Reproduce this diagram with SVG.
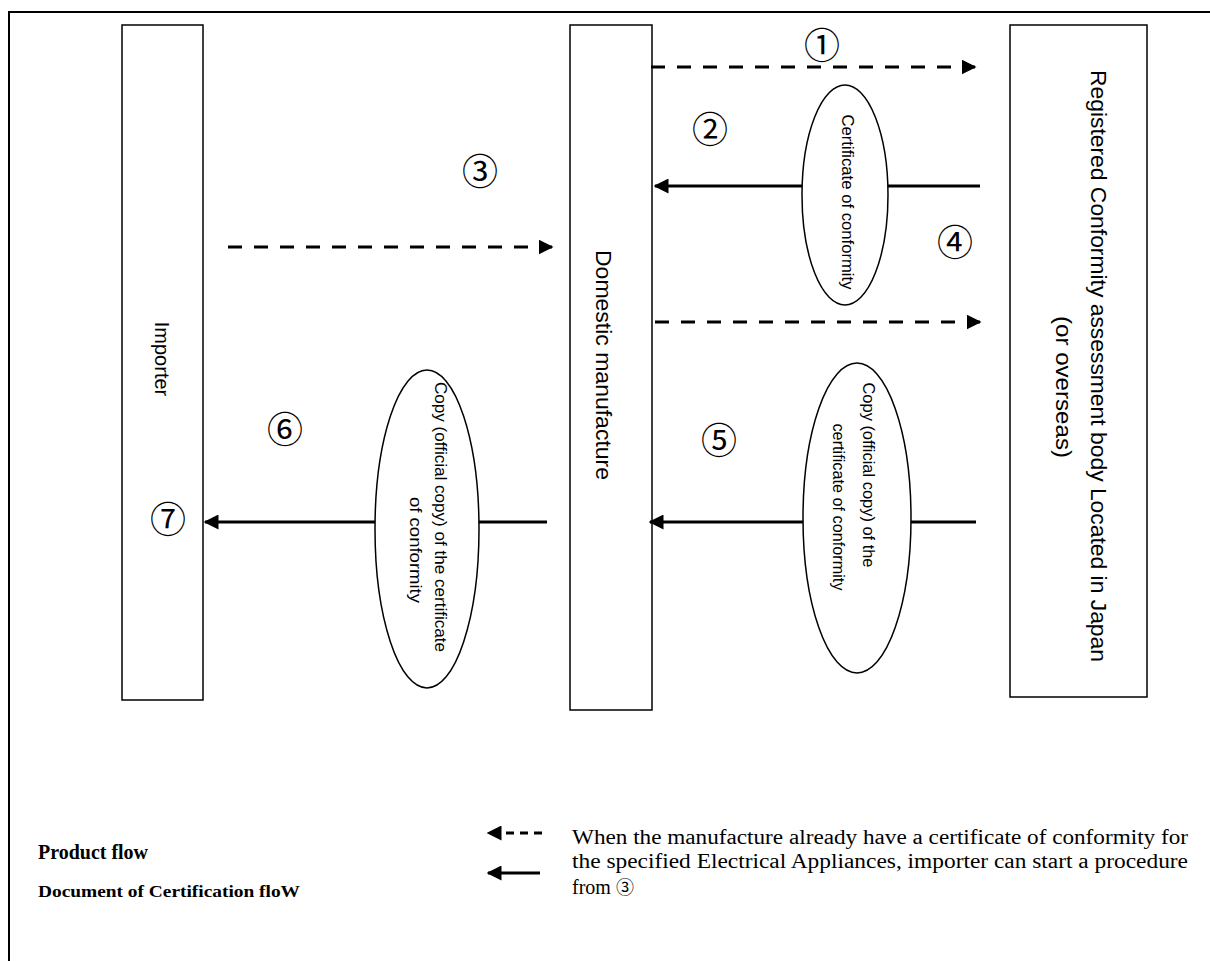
<svg xmlns="http://www.w3.org/2000/svg" width="1210" height="961" viewBox="0 0 1210 961">
<style>
.box{fill:#fff;stroke:#000;stroke-width:1.5}
.ell{fill:#fff;stroke:#000;stroke-width:1.5}
.lbl{font-family:"Liberation Sans",Arial,sans-serif;fill:#000}
.num{font-family:"Noto Sans CJK JP","DejaVu Sans",sans-serif;font-size:36px;fill:#000}
.solid{stroke:#000;stroke-width:3;fill:none}
.dash{stroke:#000;stroke-width:3;fill:none;stroke-dasharray:14 12}
.dashs{stroke:#000;stroke-width:3;fill:none;stroke-dasharray:8 6}
.leg{font-family:"Liberation Serif","Times New Roman",serif;fill:#000}
</style>
<defs>
<marker id="ah" viewBox="0 0 10 10" refX="9" refY="5" markerWidth="5" markerHeight="5" markerUnits="strokeWidth" orient="auto">
<path d="M0,0 L10,5 L0,10 Z" fill="#000"/>
</marker>
</defs>
<rect x="9" y="12" width="1220" height="970" fill="none" stroke="#000" stroke-width="2"/>

<g id="importer">
<rect class="box" x="122" y="25" width="81" height="675"/>
<text class="lbl" font-size="20" text-anchor="middle" transform="translate(155,359) rotate(90)">Importer</text>
</g>
<g id="domestic">
<rect class="box" x="570" y="25" width="82" height="685"/>
<text class="lbl" font-size="22" text-anchor="middle" textLength="230" lengthAdjust="spacingAndGlyphs" transform="translate(596,365) rotate(90)">Domestic manufacture</text>
</g>
<g id="registered">
<rect class="box" x="1010" y="25" width="137" height="672"/>
<text class="lbl" font-size="22" text-anchor="middle" textLength="592" lengthAdjust="spacingAndGlyphs" transform="translate(1091,366) rotate(90)">Registered Conformity assessment body Located in Japan</text>
<text class="lbl" font-size="22" text-anchor="middle" textLength="142" lengthAdjust="spacingAndGlyphs" transform="translate(1056,387) rotate(90)">(or overseas)</text>
</g>

<g id="connectors">
<line class="dash" x1="651" y1="67" x2="975" y2="67" marker-end="url(#ah)"/>
<line class="solid" x1="980" y1="186" x2="655" y2="186" marker-end="url(#ah)"/>
<line class="dash" x1="228" y1="247" x2="552" y2="247" marker-end="url(#ah)"/>
<line class="dash" x1="655" y1="322" x2="980" y2="322" marker-end="url(#ah)"/>
<line class="solid" x1="976" y1="522" x2="650" y2="522" marker-end="url(#ah)"/>
<line class="solid" x1="547" y1="522" x2="205" y2="522" marker-end="url(#ah)"/>
</g>

<g id="doc-cert">
<ellipse class="ell" cx="845" cy="195" rx="43" ry="110"/>
<text class="lbl" font-size="17" text-anchor="middle" textLength="175" lengthAdjust="spacingAndGlyphs" transform="translate(842,202) rotate(90)">Certificate of conformity</text>
</g>
<g id="doc-copy5">
<ellipse class="ell" cx="857" cy="518" rx="54" ry="155"/>
<text class="lbl" font-size="17" text-anchor="middle" textLength="185" lengthAdjust="spacingAndGlyphs" transform="translate(863,475) rotate(90)">Copy (official copy) of the</text>
<text class="lbl" font-size="17" text-anchor="middle" textLength="167" lengthAdjust="spacingAndGlyphs" transform="translate(833,507) rotate(90)">certificate of conformity</text>
</g>
<g id="doc-copy6">
<ellipse class="ell" cx="427" cy="529" rx="52" ry="159"/>
<text class="lbl" font-size="17" text-anchor="middle" textLength="270" lengthAdjust="spacingAndGlyphs" transform="translate(435,517) rotate(90)">Copy (official copy) of the certificate</text>
<text class="lbl" font-size="17" text-anchor="middle" textLength="106" lengthAdjust="spacingAndGlyphs" transform="translate(410,550) rotate(90)">of conformity</text>
</g>

<g id="steps">
<text class="num" x="822" y="43" text-anchor="middle" dominant-baseline="central">①</text>
<text class="num" x="710" y="127" text-anchor="middle" dominant-baseline="central">②</text>
<text class="num" x="480" y="169" text-anchor="middle" dominant-baseline="central">③</text>
<text class="num" x="955" y="240" text-anchor="middle" dominant-baseline="central">④</text>
<text class="num" x="719" y="438" text-anchor="middle" dominant-baseline="central">⑤</text>
<text class="num" x="285" y="427" text-anchor="middle" dominant-baseline="central">⑥</text>
<text class="num" x="168" y="517" text-anchor="middle" dominant-baseline="central">⑦</text>
</g>

<g id="legend">
<text class="leg" x="38" y="859" font-size="20" font-weight="bold" textLength="110" lengthAdjust="spacingAndGlyphs">Product flow</text>
<text class="leg" x="38" y="897" font-size="17" font-weight="bold" textLength="262" lengthAdjust="spacingAndGlyphs">Document of Certification floW</text>
<line class="dashs" x1="542" y1="833" x2="488" y2="833" marker-end="url(#ah)"/>
<line class="solid" x1="540" y1="873" x2="488" y2="873" marker-end="url(#ah)"/>
<text class="leg" font-size="20" x="572" y="844" textLength="616" lengthAdjust="spacingAndGlyphs">When the manufacture already have a certificate of conformity for</text>
<text class="leg" font-size="20" x="572" y="868" textLength="616" lengthAdjust="spacingAndGlyphs">the specified Electrical Appliances, importer can start a procedure</text>
<text class="leg" font-size="20" x="572" y="894">from <tspan font-family="Noto Sans CJK JP,sans-serif" font-size="18">③</tspan></text>
</g>
</svg>
